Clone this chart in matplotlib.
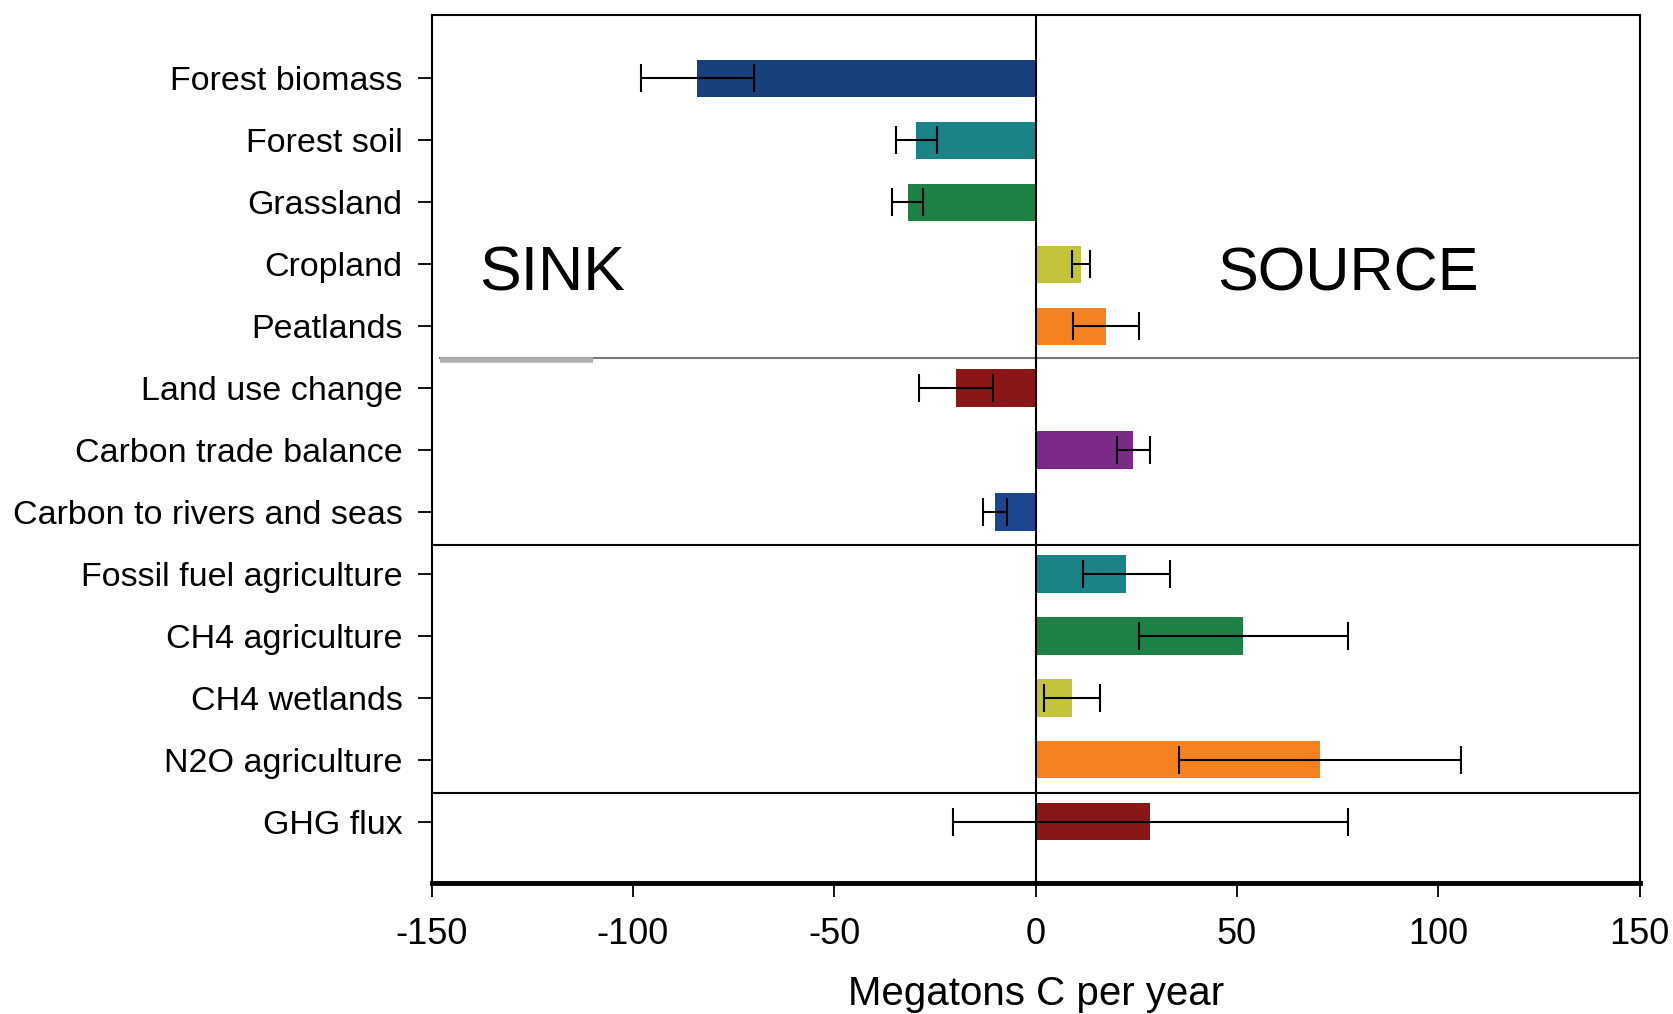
import matplotlib
matplotlib.use("Agg")
import matplotlib.pyplot as plt

categories = ["Forest biomass", "Forest soil", "Grassland", "Cropland", "Peatlands",
              "Land use change", "Carbon trade balance", "Carbon to rivers and seas",
              "Fossil fuel agriculture", "CH4 agriculture", "CH4 wetlands",
              "N2O agriculture", "GHG flux"]
values = [-84.0, -29.6, -31.8, 11.3, 17.5, -19.7, 24.2, -10.1, 22.5, 51.6, 9.0, 70.6, 28.5]
errors = [14.0, 5.1, 3.9, 2.3, 8.2, 9.2, 4.1, 3.0, 10.8, 26.0, 7.0, 35.0, 49.0]
colors = ["#17407d", "#1a8387", "#1d8044", "#c3c43c", "#f6821f", "#8b1618",
          "#7c2a88", "#1e4690", "#1a8387", "#1d8044", "#c3c43c", "#f6821f", "#8b1618"]
xticks = [-150, -100, -50, 0, 50, 100, 150]
xlabel = "Megatons C per year"

plt.rcParams['font.family'] = ['Liberation Sans', 'DejaVu Sans']

fig = plt.figure(figsize=(16.73, 10.14), dpi=100)
ax = fig.add_axes([0.258, 0.1296, 0.722, 0.8556])

ypos = list(range(len(categories)))
ax.barh(ypos, values, height=0.6, color=colors, zorder=2)
ax.errorbar(values, ypos, xerr=errors, fmt='none', ecolor='black', elinewidth=1.5,
            capsize=10, capthick=1.5, zorder=3)

ax.axvline(0, color='black', lw=1.5, zorder=4)
ax.plot([-148, 150], [4.52, 4.52], color='#777777', lw=1.5, zorder=1)
ax.plot([-148, -110], [4.55, 4.55], color='#b0b0b0', lw=4, zorder=1, solid_capstyle='butt')
ax.axhline(7.53, color='black', lw=1.5, zorder=1)
ax.axhline(11.53, color='black', lw=1.5, zorder=1)

ax.text(-120, 3.42, "SINK", fontsize=45, ha='center', va='baseline')
ax.text(77.5, 3.42, "SOURCE", fontsize=44, ha='center', va='baseline')

ax.set_xlim(-150, 150)
ax.set_ylim(12.98, -1.02)
ax.set_yticks(ypos)
ax.set_yticklabels(categories, fontsize=24.5)
ax.set_xticks(xticks)
ax.set_xticklabels([str(v) for v in xticks], fontsize=26)
ax.set_xlabel(xlabel, fontsize=29, labelpad=16)

ax.tick_params(axis='y', length=10, width=1.3, pad=11)
ax.tick_params(axis='x', length=10, width=1.3, pad=15)

for s in ['left', 'right', 'top']:
    ax.spines[s].set_linewidth(1.5)
ax.spines['bottom'].set_linewidth(3.5)

fig.savefig("out.png", dpi=100)
